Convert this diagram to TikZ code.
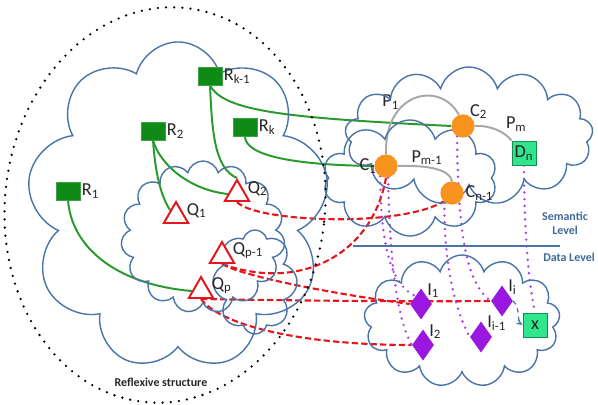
\documentclass[tikz,border=0pt]{standalone}
\usepackage{fontspec}
\setmainfont{Carlito}
\usepackage{tikz}
\usetikzlibrary{arrows.meta,positioning,shapes.geometric,shapes.symbols,backgrounds}
\definecolor{skyline}{HTML}{4A74A8}
\definecolor{levelblue}{HTML}{3F6A98}
\definecolor{resgreen}{HTML}{0E8A17}
\definecolor{linkgreen}{HTML}{2A9A2E}
\definecolor{queryred}{HTML}{E5161C}
\definecolor{conceptorange}{HTML}{F8931F}
\definecolor{instpurple}{HTML}{9A17DF}
\definecolor{dotpurple}{HTML}{A63DEE}
\definecolor{datagreen}{HTML}{2FE68C}
\definecolor{pathgray}{HTML}{A8A8A8}
\definecolor{labelink}{HTML}{262626}

\begin{document}
\begin{tikzpicture}[
  x=0.025cm, y=-0.025cm,
  cloudy/.style={cloud, draw=skyline, line width=1pt, cloud ignores aspect, inner sep=0pt},
  reflex/.style={ellipse, draw=black, line width=1.8pt, line cap=round, dash pattern=on 0pt off 5.8pt},
  lbl/.style={font=\fontsize{13}{15}\selectfont, text=labelink, inner sep=1pt},
  qlbl/.style={lbl, anchor=west, yshift=4pt},
  resource/.style={rectangle, fill=resgreen, draw=resgreen!80!white, minimum width=6mm, minimum height=4.5mm, inner sep=0pt},
  query/.style={regular polygon, regular polygon sides=3, draw=queryred, line width=1.4pt, fill=white, minimum size=7mm, inner sep=0pt},
  concept/.style={circle, fill=conceptorange, minimum size=5.8mm, inner sep=0pt},
  datum/.style={rectangle, fill=datagreen, draw=datagreen!60!black, line width=0.6pt, minimum size=6mm, inner sep=0pt, font=\fontsize{13}{15}\selectfont, text=labelink},
  instance/.style={diamond, fill=instpurple, minimum width=5.5mm, minimum height=7.8mm, inner sep=0pt},
  link/.style={draw=linkgreen, line width=1.4pt},
  prop/.style={draw=pathgray, line width=1.4pt},
  answer/.style={draw=queryred, line width=1.5pt, dash pattern=on 4.5pt off 2.2pt},
  extent/.style={draw=dotpurple, line width=1.9pt, line cap=round, dash pattern=on 0pt off 4.8pt},
  levelnote/.style={font=\fontsize{8.5}{10}\selectfont\bfseries, text=levelblue, align=center}
]
\useasboundingbox (0,0) rectangle (598,405);

% clouds
\node[cloudy, cloud puffs=9, minimum width=7.55cm, minimum height=8.2cm] (rcloud) at (178,206) {};
\node[cloudy, cloud puffs=15, minimum width=4.1cm, minimum height=3.8cm] (qcloud) at (203,237) {};
\node[cloudy, cloud puffs=8, minimum width=2.1cm, minimum height=2.6cm] (qcloudb) at (255,282) {};
\node[cloudy, cloud puffs=13, minimum width=6.2cm, minimum height=3.45cm] (scloud) at (469,136) {};
\node[cloudy, cloud puffs=10, minimum width=4.35cm, minimum height=2.9cm] (scloudb) at (410,178) {};
\node[cloudy, cloud puffs=13, minimum width=4.9cm, minimum height=3.3cm] (dcloud) at (462,321) {};

\node[reflex, rotate=-6, minimum width=8cm, minimum height=9.9cm] (reflexive) at (165,205) {};
\node[font=\fontsize{8.5}{10}\selectfont\bfseries, text=labelink] (refltext) at (161,382) {Reflexive structure};

% levels
\coordinate (sepw) at (353,246);
\coordinate (sepe) at (560,246);
\draw[draw=skyline, line width=1.3pt] (sepw) -- (sepe);
\node[levelnote] (semantic) at (565,223) {Semantic\\Level};
\node[levelnote] (datalevel) at (569,257) {Data Level};

% resources and queries
\node[resource, label={[lbl]right:R\textsubscript{k-1}}] (rk1) at (210,76) {};
\node[resource, label={[lbl]right:R\textsubscript{2}}] (r2) at (153,131) {};
\node[resource, label={[lbl]right:R\textsubscript{k}}] (rk) at (245,127) {};
\node[resource, label={[lbl]right:R\textsubscript{1}}] (r1) at (68,191) {};
\node[query, label={[qlbl]0:Q\textsubscript{2}}] (q2) at (237,194) {};
\node[query, label={[qlbl]0:Q\textsubscript{1}}] (q1) at (176,216) {};
\node[query, label={[qlbl]0:Q\textsubscript{p-1}}] (qp1) at (222,256) {};
\node[query, label={[qlbl]0:Q\textsubscript{p}}] (qp) at (201,291) {};

% semantic level
\node[concept, label={[lbl, xshift=3pt]left:C\textsubscript{1}}] (c1) at (386,166) {};
\node[concept, label={[lbl, label distance=-3pt]45:C\textsubscript{2}}] (c2) at (463,126) {};
\node[concept, label={[lbl]right:C\textsubscript{n-1}}] (cn1) at (452,193) {};
\node[datum] (dn) at (524,153) {D\textsubscript{n}};

% data level
\node[instance, label={[lbl, label distance=-2pt]45:I\textsubscript{1}}] (i1) at (421,304) {};
\node[instance, label={[lbl, label distance=-2pt]45:I\textsubscript{2}}] (i2) at (423,345) {};
\node[instance, label={[lbl, label distance=-2pt]45:I\textsubscript{i}}] (ii) at (502,301) {};
\node[instance, label={[lbl, label distance=-2pt]45:I\textsubscript{i-1}}] (ii1) at (481,337) {};
\node[datum] (xd) at (535,325) {x};

\begin{scope}[on background layer]
\draw[link] (rk1.south) .. controls (224,112) and (290,118) .. (c2.west);
\draw[link] (rk1.south) .. controls (212,130) and (214,168) .. (q2.north);
\draw[link] (rk.south) .. controls (245,155) and (290,165) .. (c1.west);
\draw[link] (r2.south) .. controls (155,170) and (160,195) .. (q1.north west);
\draw[link] (r2.south) .. controls (160,165) and (190,190) .. (q2.west);
\draw[link] (r1.south) .. controls (72,250) and (120,285) .. (qp.west);

\draw[prop] (c1.north) .. controls (384,92) and (440,80) .. (c2.110) node[lbl, pos=0.3, above left, xshift=3pt] (p1l) {P\textsubscript{1}};
\draw[prop] (c2.east) .. controls (490,125) and (505,132) .. (dn.north west) node[lbl, pos=0.7, anchor=south west] (pml) {P\textsubscript{m}};
\draw[prop] (c1.east) .. controls (430,165) and (450,170) .. (cn1.north) node[lbl, pos=0.35, above] (pm1l) {P\textsubscript{m-1}};

\draw[answer] (q2.south) .. controls (255,222) and (400,228) .. (cn1.south west);
\draw[answer] (c1.south) .. controls (372,255) and (300,292) .. (qp1.south);
\draw[answer] (qp1.south) .. controls (240,275) and (320,292) .. (i1.west);
\draw[answer] (qp.south) .. controls (260,300) and (400,302) .. (ii.west);
\draw[answer] (qp.south) .. controls (220,325) and (300,345) .. (i2.west);

\draw[extent] (c1.-120) .. controls (381,250) and (392,285) .. (i1.north west);
\draw[extent] (c1.-80) .. controls (390,270) and (398,320) .. (i2.west);
\draw[extent] (c2.-120) .. controls (458,250) and (470,285) .. (ii.west);
\draw[extent] (cn1.-130) .. controls (444,265) and (455,310) .. (ii1.west);
\draw[extent] (dn.south) .. controls (524,240) and (530,290) .. (xd.north);

\draw[draw=skyline, line width=0.9pt, dashed, -{Stealth[length=1.6mm,width=1.4mm]}] (ii.east) .. controls (520,308) and (518,322) .. (xd.west);
\end{scope}
\end{tikzpicture}
\end{document}
